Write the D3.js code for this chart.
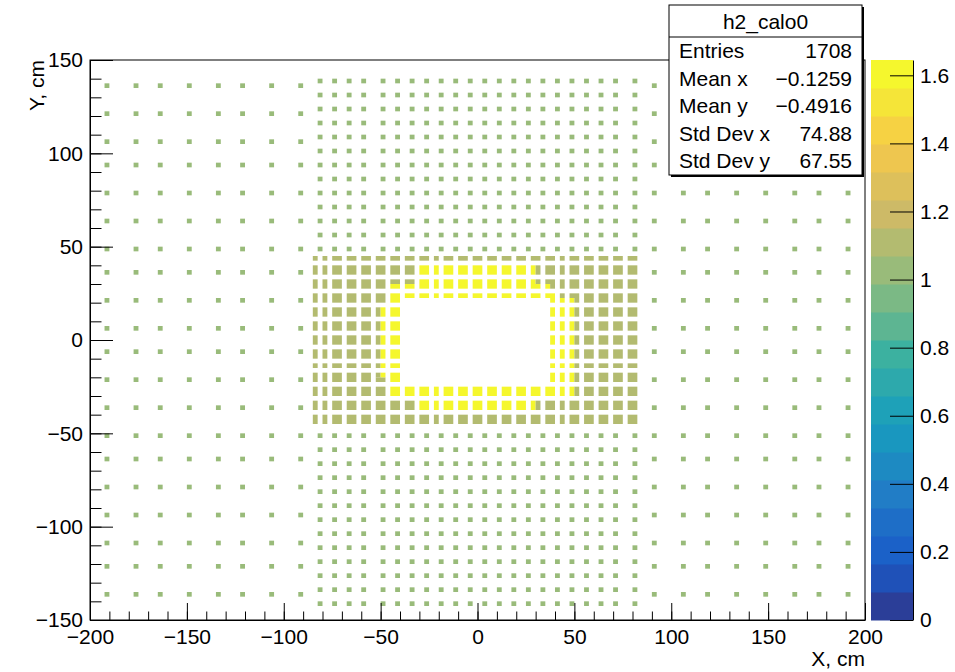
<!DOCTYPE html>
<html><head><meta charset="utf-8">
<script src="https://cdn.jsdelivr.net/npm/d3@7"></script>
<style>
body{margin:0;background:#fff}
svg{display:block}
text{font-family:"Liberation Sans",Arial,Helvetica,sans-serif;fill:#000}
</style>
</head><body>
<svg id="c" width="955" height="672"></svg>
<script>
// ---------------- data ----------------
const histName = "h2_calo0";
const xTitle = "X, cm";
const yTitle = "Y, cm";
const xDomain = [-200, 200];
const yDomain = [-150, 150];
const binW = 2.5;            // bin width in x and y (cm)
const zMax = 1.645;
const nContours = 20;
const xTicks = [-200, -150, -100, -50, 0, 50, 100, 150, 200];
const yTicks = [-150, -100, -50, 0, 50, 100, 150];
const zTicks = [0, 0.2, 0.4, 0.6, 0.8, 1, 1.2, 1.4, 1.6];
const statLabels = ["Entries", "Mean x", "Mean y", "Std Dev x", "Std Dev y"];
const statValues = ["1708", "\u22120.1259", "\u22120.4916", "74.88", "67.55"];

// outer coarse region: one-bin cells, lower edges (cm)
const outerCols = [-192.5, -177.5, -165, -150, -135, -122.5, -107.5, -92.5,
                   90, 105, 117.5, 132.5, 147.5, 162.5, 175, 190];
const outerRows = [135, 120, 105, 92.5, 77.5, 62.5, 47.5, 35, 20, 5, -7.5, -22.5,
                   -37.5, -52.5, -65, -80, -95, -110, -122.5, -137.5];
const outerValue = 1.0;

// central band above / below the inner block: one-bin cells, lower edges (cm)
const bandCols = [-82.5, -75, -67.5, -60, -50, -42.5, -35, -27.5, -20, -12.5, -5, 2.5,
                  10, 17.5, 25, 32.5, 40, 47.5, 55, 62.5, 70, 80];
const bandRows = [137.5, 130, 122.5, 115, 107.5, 100, 92.5, 85, 77.5, 70, 62.5, 55, 47.5,
                  -52.5, -60, -67.5, -75, -82.5, -90, -97.5, -105, -112.5, -120, -127.5, -135, -142.5];
const bandValue = 1.0;

// inner block cells [lo, hi] (cm)
const innerCols = [[-85, -82.5], [-80, -77.5], [-75, -70], [-67.5, -62.5], [-60, -55], [-52.5, -47.5],
                   [-45, -40], [-37.5, -32.5], [-30, -25], [-22.5, -20], [-17.5, -12.5], [-10, -5],
                   [-2.5, 2.5], [5, 10], [12.5, 17.5], [20, 25], [27.5, 32.5], [35, 40],
                   [42.5, 45], [47.5, 52.5], [55, 60], [62.5, 67.5], [70, 75], [77.5, 82.5]];
const innerRows = [[42.5, 45], [35, 40], [27.5, 32.5], [20, 25], [12.5, 17.5], [5, 10], [-2.5, 2.5],
                   [-10, -5], [-15, -12.5], [-22.5, -17.5], [-30, -25], [-37.5, -32.5], [-45, -40]];
const innerValue = 1.11;

// high ring around the hole: [x0, x1, y0, y1] (cm)
const ringRects = [
  [-30, 30, 35, 40], [-30, 30, 30, 32.5], [-45, 37.5, 27.5, 30], [-45, 40, 22.5, 25],
  [-45, -40, -30, 25], [-50, -47.5, -20, 17.5],
  [37.5, 40, -30, 22.5], [42.5, 45, -30, 22.5], [47.5, 50, -30, 22.5],
  [-45, 50, -30, -25], [-30, 30, -37.5, -32.5]
];
const ringValue = 1.645;
const hole = [-40, 37.5, -25, 22.5];

// kBird palette stops
const birdStops = [0, 0.125, 0.25, 0.375, 0.5, 0.625, 0.75, 0.875, 1];
const birdR = [0.2082, 0.0592, 0.0780, 0.0232, 0.1802, 0.5301, 0.8186, 0.9956, 0.9764];
const birdG = [0.1664, 0.3599, 0.5041, 0.6419, 0.7178, 0.7492, 0.7328, 0.7862, 0.9832];
const birdB = [0.5293, 0.8684, 0.8385, 0.7914, 0.6425, 0.4662, 0.3499, 0.1968, 0.0539];
const desat = 0.15;   // screenshot colour rendering is slightly washed out

// ---------------- layout ----------------
const L = 90, R = 865, T = 60, B = 620;
const svg = d3.select("#c");
const xs = d3.scaleLinear().domain(xDomain).range([L, R]);
const ys = d3.scaleLinear().domain(yDomain).range([B, T]);
const zs = d3.scaleLinear().domain([0, zMax]).range([B, T]);

function bird(t) {
  let k = 1;
  while (k < birdStops.length - 1 && t > birdStops[k]) k++;
  const f = (t - birdStops[k - 1]) / (birdStops[k] - birdStops[k - 1]);
  const c = a => 255 * (a[k - 1] + f * (a[k] - a[k - 1]));
  const r = c(birdR), g = c(birdG), b = c(birdB);
  const lum = 0.3 * r + 0.59 * g + 0.11 * b;
  const m = v => Math.round(v * (1 - desat) + lum * desat);
  return d3.rgb(m(r), m(g), m(b)).formatHex();
}
function bandColor(i) {
  const idx = Math.floor((i + 0.99) * 255 / nContours);
  return bird(Math.min(idx, 254) / 254);
}
function zColor(v) {
  let band = Math.floor(v / zMax * nContours);
  if (band >= nContours) band = nContours - 1;
  if (band < 0) band = 0;
  return bandColor(band);
}

// ---------------- bins ----------------
const ixOf = x => Math.round((x - xDomain[0]) / binW);
const iyOf = y => Math.round((y - yDomain[0]) / binW);
const bins = new Map();
const setBin = (ix, iy, v) => bins.set(iy * 1000 + ix, v);

outerCols.forEach(x => outerRows.forEach(y => setBin(ixOf(x), iyOf(y), outerValue)));
bandCols.forEach(x => bandRows.forEach(y => setBin(ixOf(x), iyOf(y), bandValue)));
const inRect = (x, y, r) => x > r[0] && x < r[1] && y > r[2] && y < r[3];
innerCols.forEach(c => innerRows.forEach(r => {
  for (let ix = ixOf(c[0]); ix < ixOf(c[1]); ix++) {
    for (let iy = iyOf(r[0]); iy < iyOf(r[1]); iy++) {
      const xc = xDomain[0] + (ix + 0.5) * binW, yc = yDomain[0] + (iy + 0.5) * binW;
      if (ringRects.some(q => inRect(xc, yc, q))) setBin(ix, iy, ringValue);
      else if (inRect(xc, yc, hole)) continue;
      else setBin(ix, iy, innerValue);
    }
  }
}));

// merge into rectangles: horizontal runs, then vertical stacking
const rows = d3.group(Array.from(bins, ([k, v]) => ({ix: k % 1000, iy: Math.floor(k / 1000), v})), d => d.iy);
let runs = [];
Array.from(rows.keys()).sort((a, b) => a - b).forEach(iy => {
  const cells = rows.get(iy).sort((a, b) => a.ix - b.ix);
  let cur = null;
  cells.forEach(c => {
    if (cur && c.ix === cur.ix1 + 1 && c.v === cur.v) cur.ix1 = c.ix;
    else { cur = {ix0: c.ix, ix1: c.ix, iy0: iy, iy1: iy, v: c.v}; runs.push(cur); }
  });
});
const open = new Map();
const rects = [];
runs.forEach(r => {
  const key = r.ix0 + "_" + r.ix1 + "_" + r.v;
  const prev = open.get(key);
  if (prev && prev.iy1 === r.iy0 - 1) prev.iy1 = r.iy0;
  else { open.set(key, r); rects.push(r); }
});

// ---------------- draw ----------------
svg.append("rect").attr("width", 955).attr("height", 672).attr("fill", "#fff");

svg.append("g").selectAll("rect").data(rects).join("rect")
  .attr("x", d => xs(xDomain[0] + d.ix0 * binW))
  .attr("width", d => xs(xDomain[0] + (d.ix1 + 1) * binW) - xs(xDomain[0] + d.ix0 * binW))
  .attr("y", d => ys(yDomain[0] + (d.iy1 + 1) * binW))
  .attr("height", d => ys(yDomain[0] + d.iy0 * binW) - ys(yDomain[0] + (d.iy1 + 1) * binW))
  .attr("fill", d => zColor(d.v));

// frame
svg.append("rect").attr("x", L).attr("y", T).attr("width", R - L).attr("height", B - T)
  .attr("fill", "none").attr("stroke", "#000").attr("stroke-width", 1);

const fs = 21;
// x axis
const xMinor = d3.range(xDomain[0], xDomain[1] + 0.001, 10);
svg.append("g").attr("transform", `translate(0,${B})`)
  .call(d3.axisBottom(xs).tickValues(xMinor).tickSize(-8.5).tickSizeOuter(0).tickFormat(""))
  .call(g => g.select(".domain").remove());
const gx = svg.append("g").attr("transform", `translate(0,${B})`)
  .call(d3.axisBottom(xs).tickValues(xTicks).tickSize(-17).tickSizeOuter(0).tickPadding(9));
gx.selectAll("text").attr("font-size", fs).attr("font-family", null);
// y axis
const yMinor = d3.range(yDomain[0], yDomain[1] + 0.001, 10);
svg.append("g").attr("transform", `translate(${L},0)`)
  .call(d3.axisLeft(ys).tickValues(yMinor).tickSize(-11.5).tickSizeOuter(0).tickFormat(""))
  .call(g => g.select(".domain").remove());
const gy = svg.append("g").attr("transform", `translate(${L},0)`)
  .call(d3.axisLeft(ys).tickValues(yTicks).tickSize(-23).tickSizeOuter(0).tickPadding(7));
gy.selectAll("text").attr("font-size", fs).attr("font-family", null);
svg.selectAll(".tick line").attr("stroke", "#000");
svg.selectAll(".domain").attr("stroke", "#000");

// axis titles
svg.append("text").attr("x", R).attr("y", 666).attr("text-anchor", "end")
  .attr("font-size", fs).text(xTitle);
svg.append("text").attr("transform", `translate(44,${T}) rotate(-90)`).attr("text-anchor", "end")
  .attr("font-size", fs).text(yTitle);

// colour bar
const CB0 = 871, CB1 = 913;
svg.append("g").selectAll("rect").data(d3.range(nContours)).join("rect")
  .attr("x", CB0).attr("width", CB1 - CB0)
  .attr("y", i => zs((i + 1) * zMax / nContours))
  .attr("height", i => zs(i * zMax / nContours) - zs((i + 1) * zMax / nContours) + 0.5)
  .attr("fill", i => bandColor(i));
const gz = svg.append("g").attr("transform", `translate(${CB1},0)`)
  .call(d3.axisRight(zs).tickValues(zTicks).tickSize(-23).tickSizeOuter(0).tickPadding(7)
    .tickFormat(d3.format("~g")));
gz.selectAll("text").attr("font-size", fs).attr("font-family", null);
gz.selectAll(".tick line").attr("stroke", "#000");
gz.select(".domain").attr("stroke", "#000");

// stats box
const SB = {x0: 669, x1: 862, y0: 5, y1: 175, ySep: 37};
svg.append("rect").attr("x", SB.x0 + 2).attr("y", SB.y0 + 2)
  .attr("width", SB.x1 - SB.x0).attr("height", SB.y1 - SB.y0).attr("fill", "#000");
svg.append("rect").attr("x", SB.x0).attr("y", SB.y0)
  .attr("width", SB.x1 - SB.x0).attr("height", SB.y1 - SB.y0)
  .attr("fill", "#fff").attr("stroke", "#000").attr("stroke-width", 1);
svg.append("line").attr("x1", SB.x0).attr("x2", SB.x1).attr("y1", SB.ySep).attr("y2", SB.ySep)
  .attr("stroke", "#000");
svg.append("text").attr("x", (SB.x0 + SB.x1) / 2).attr("y", 29).attr("text-anchor", "middle")
  .attr("font-size", fs).text(histName);
const lineY = [58, 85.5, 113, 140.5, 168];
svg.append("g").selectAll("text").data(statLabels).join("text")
  .attr("x", 679).attr("y", (d, i) => lineY[i]).attr("font-size", fs).text(d => d);
svg.append("g").selectAll("text").data(statValues).join("text")
  .attr("x", 852).attr("y", (d, i) => lineY[i]).attr("text-anchor", "end").attr("font-size", fs).text(d => d);
</script>
</body></html>
